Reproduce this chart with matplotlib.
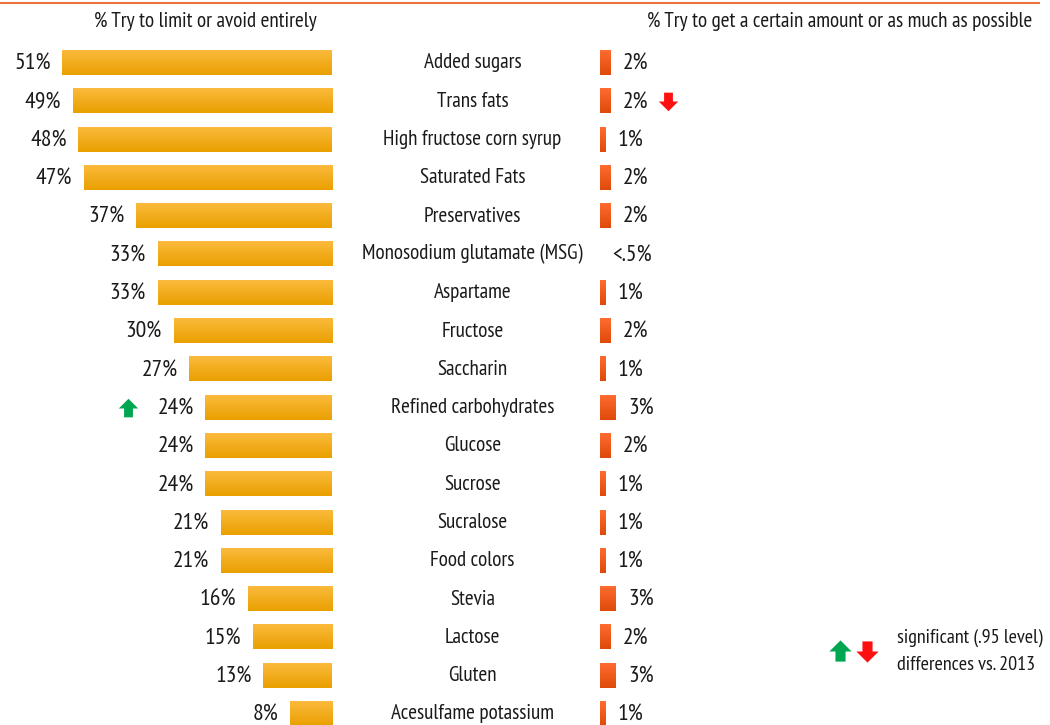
import matplotlib.pyplot as plt
import numpy as np
from matplotlib.path import Path
from matplotlib.colors import LinearSegmentedColormap

plt.rcParams['font.family'] = ['PT Sans Narrow', 'Roboto Condensed', 'DejaVu Sans']

items = ["Added sugars", "Trans fats", "High fructose corn syrup", "Saturated Fats",
         "Preservatives", "Monosodium glutamate (MSG)", "Aspartame", "Fructose",
         "Saccharin", "Refined carbohydrates", "Glucose", "Sucrose", "Sucralose",
         "Food colors", "Stevia", "Lactose", "Gluten", "Acesulfame potassium"]
limit_pct = [51, 49, 48, 47, 37, 33, 33, 30, 27, 24, 24, 24, 21, 21, 16, 15, 13, 8]
get_pct = [2, 2, 1, 2, 2, 0, 1, 2, 1, 3, 2, 1, 1, 1, 3, 2, 3, 1]
get_labels = ["2%", "2%", "1%", "2%", "2%", "<.5%", "1%", "2%", "1%", "3%",
              "2%", "1%", "1%", "1%", "3%", "2%", "3%", "1%"]
up_rows = ["Refined carbohydrates"]
down_rows = ["Trans fats"]

right_start = 50.7   # where the second column of bars begins
label_x = 26.5       # centre of the item names
bar_h = 0.63
fs = 15.2            # item names and titles
fs_num = 17          # percentage labels
ink = '#1a1a1a'

fig = plt.figure(figsize=(10.5, 7.25), dpi=100)
ax = fig.add_axes([0, 0, 1, 1])
ax.axis('off')

yel = LinearSegmentedColormap.from_list('yel', ['#FBBA3C', '#E9A000'])
org = LinearSegmentedColormap.from_list('org', ['#FF6C30', '#DF4A0A'])
grad = np.linspace(0, 1, 50).reshape(-1, 1)

for i, (name, lv, gv, gl) in enumerate(zip(items, limit_pct, get_pct, get_labels)):
    # limit / avoid bar grows leftwards from zero
    ax.imshow(grad, cmap=yel, aspect='auto', interpolation='bilinear',
              extent=[-lv, 0, i + bar_h / 2, i - bar_h / 2])
    ax.text(-lv - 2.2, i + 0.04, f"{lv}%", ha='right', va='center', fontsize=fs_num, color=ink)
    ax.text(label_x, i, name, ha='center', va='center', fontsize=fs, color=ink)
    if gv > 0:
        ax.imshow(grad, cmap=org, aspect='auto', interpolation='bilinear',
                  extent=[right_start, right_start + gv, i + bar_h / 2, i - bar_h / 2])
    ax.text(right_start + gv + 2.3, i + 0.04, gl, ha='left', va='center', fontsize=fs_num, color=ink)

# block arrow marker
up_arrow = Path([(-0.25, -0.5), (0.25, -0.5), (0.25, 0.0), (0.55, 0.0), (0.0, 0.55),
                 (-0.55, 0.0), (-0.25, 0.0), (-0.25, -0.5)])
down_arrow = Path([(x, -y) for x, y in up_arrow.vertices])

for name in up_rows:
    i = items.index(name)
    ax.plot(-limit_pct[i] - 14.6, i, marker=up_arrow, ms=14, color='#00A650', mec='none')
for name in down_rows:
    i = items.index(name)
    ax.plot(right_start + get_pct[i] + 10.8, i, marker=down_arrow, ms=14, color='#FF1010', mec='none')

# legend for significance arrows
ax.plot(96.0, 15.35, marker=up_arrow, ms=16, color='#00A650', mec='none')
ax.plot(101.1, 15.35, marker=down_arrow, ms=16, color='#FF1010', mec='none')
ax.text(106.8, 15.02, "significant (.95 level)", ha='left', va='center', fontsize=14.5, color=ink)
ax.text(106.8, 15.73, "differences vs. 2013", ha='left', va='center', fontsize=14.5, color=ink)

ax.text(-24.0, -1.08, "% Try to limit or avoid entirely", ha='center', va='center',
        fontsize=fs, color=ink)
ax.text(96.0, -1.08, "% Try to get a certain amount or as much as possible", ha='center',
        va='center', fontsize=fs, color=ink)

ax.set_xlim(-62.8, 135.7)
ax.set_ylim(17.29, -1.645)

# thin rule along the top
ax.plot([-62.8, 133.8], [-1.57, -1.57], color='#E8743B', lw=1.5, solid_capstyle='butt')

fig.savefig('out.png', dpi=100)
